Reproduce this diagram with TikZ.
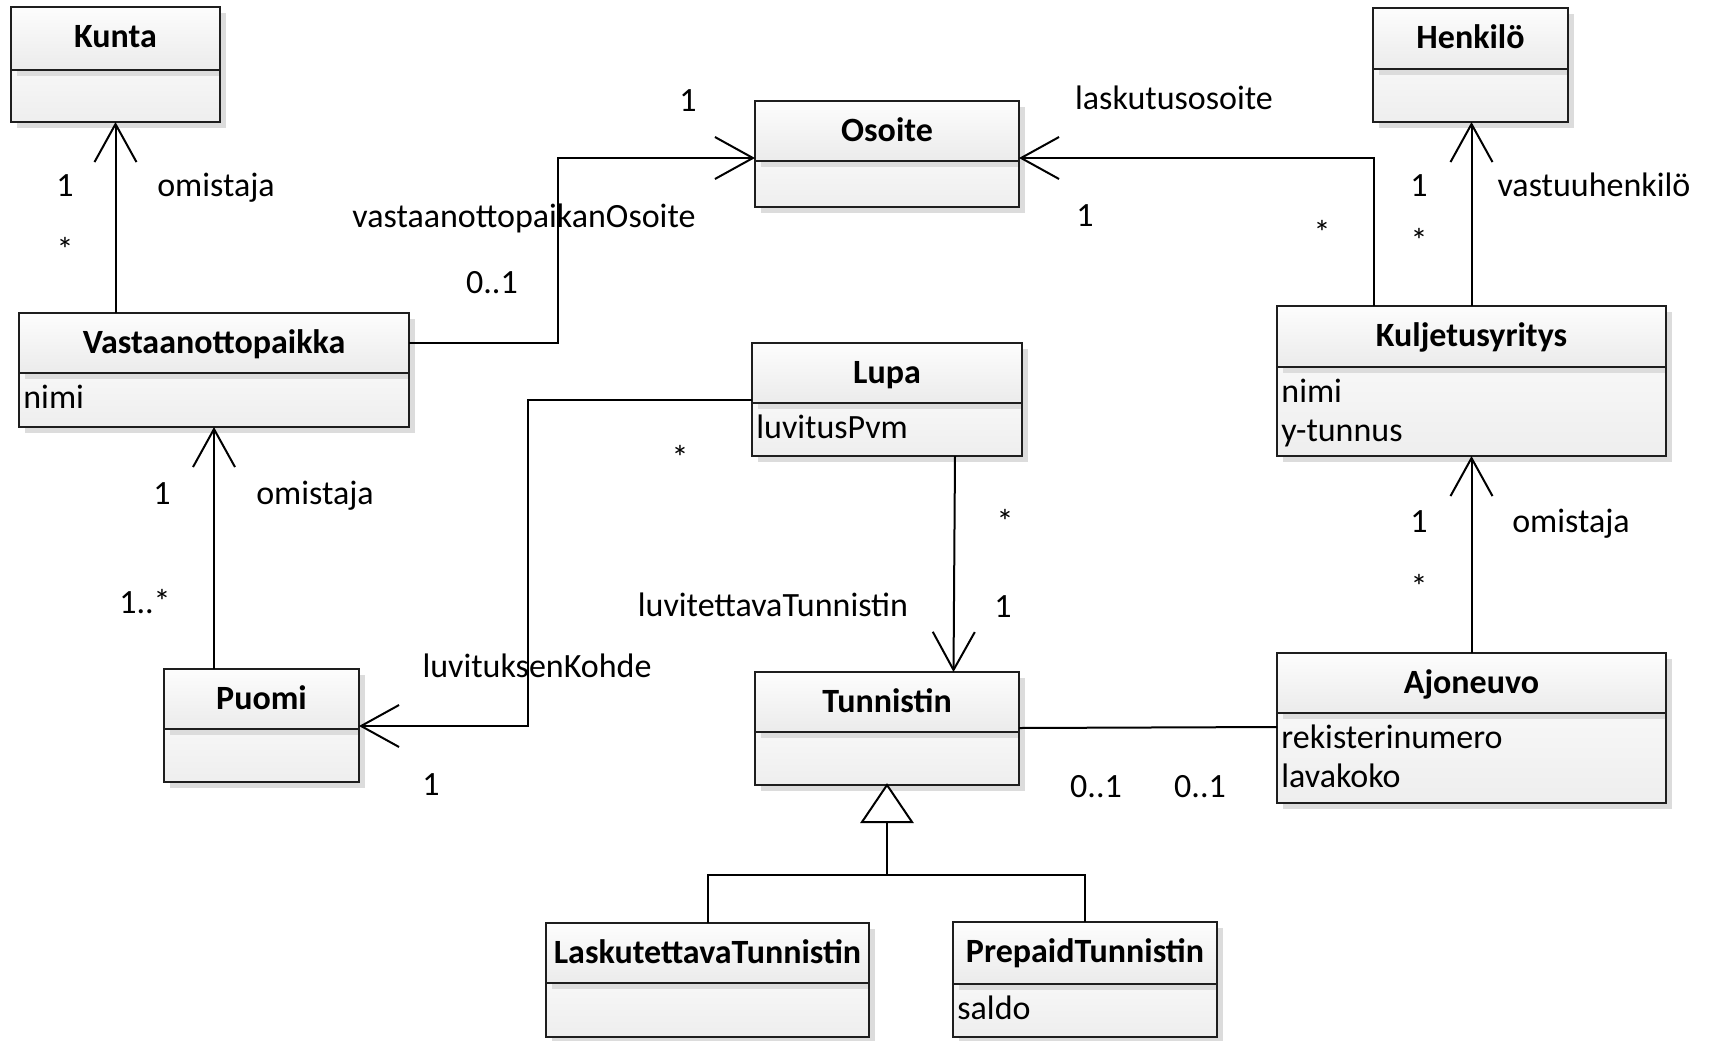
\documentclass[tikz,border=0pt]{standalone}
\usepackage{fontspec}
\setmainfont{Carlito}
\usetikzlibrary{arrows.meta,calc,fit}

\definecolor{umlshadow}{HTML}{DCDCDC}
\definecolor{headtop}{HTML}{FDFDFD}
\definecolor{headbot}{HTML}{EBEBEB}
\definecolor{bodytop}{HTML}{F7F7F7}
\definecolor{bodybot}{HTML}{EEEEEE}
\definecolor{umlline}{HTML}{1E1E1E}

\tikzset{
  boxline/.style={draw=umlline, line width=0.65pt},
  conn/.style={draw=black, line width=1pt},
  arr/.style={conn, -{Straight Barb[length=19pt,width=21pt,line width=1pt]}},
  classtitle/.style={font=\fontsize{17}{20}\selectfont\bfseries, anchor=base, inner sep=0pt},
  attr/.style={font=\fontsize{17}{20}\selectfont, anchor=base west, inner sep=0pt},
  lbl/.style={font=\fontsize{17}{20}\selectfont, anchor=base, inner sep=0pt},
}

% #1 name, #2 left, #3 top, #4 right, #5 header bottom, #6 bottom, #7 class name
\newcommand{\umlclass}[7]{%
  \fill[umlshadow] (#2+6,#3+6) rectangle (#4+6,#6+6);
  \shade[top color=bodytop, bottom color=bodybot] (#2,#5) rectangle (#4,#6);
  \fill[umlshadow] (#2+6,#5) rectangle (#4+6,#5+6);
  \shade[top color=headtop, bottom color=headbot] (#2,#3) rectangle (#4,#5);
  \draw[boxline] (#2,#3) rectangle (#4,#6);
  \draw[boxline] (#2,#5) -- (#4,#5);
  \node[fit={(#2,#3) (#4,#6)}, inner sep=0pt, outer sep=0pt] (#1) {};
  \node[fit={(#2,#3) (#4,#5)}, inner sep=0pt, outer sep=0pt] (#1-h) {};
  \node[classtitle] (#1-t) at ({(#2+#4)/2},#3+40) {#7};
}

\begin{document}
\begin{tikzpicture}[x=0.5pt,y=-0.5pt]
\useasboundingbox (0,0) rectangle (1720,1040);
\fill[white] (0,0) rectangle (1720,1040);

% classes
\umlclass{kunta}{11}{7}{220}{70}{122}{Kunta}
\umlclass{henk}{1373}{8}{1568}{69}{122}{Henkilö}
\umlclass{osoite}{755}{101}{1019}{161}{207}{Osoite}
\umlclass{vast}{19}{313}{409}{373}{427}{Vastaanottopaikka}
\node[attr] (vast-a1) at (23,408) {nimi};
\umlclass{kulj}{1277}{306}{1666}{367}{456}{Kuljetusyritys}
\node[attr] (kulj-a1) at (1281,402) {nimi};
\node[attr] (kulj-a2) at (1281,441) {y-tunnus};
\umlclass{lupa}{752}{343}{1022}{403}{456}{Lupa}
\node[attr] (lupa-a1) at (756,438) {luvitusPvm};
\umlclass{puomi}{164}{669}{359}{729}{782}{Puomi}
\umlclass{tunn}{755}{672}{1019}{732}{785}{Tunnistin}
\umlclass{ajon}{1277}{653}{1666}{713}{803}{Ajoneuvo}
\node[attr] (ajon-a1) at (1281,748) {rekisterinumero};
\node[attr] (ajon-a2) at (1281,787) {lavakoko};
\umlclass{lask}{546}{923}{869}{983}{1037}{LaskutettavaTunnistin}
\umlclass{prep}{953}{922}{1217}{984}{1037}{PrepaidTunnistin}
\node[attr] (prep-a1) at (957,1019) {saldo};

% associations
\draw[arr] (vast.north -| kunta.south) -- (kunta.south);
\draw[arr] (puomi.north -| vast.south) -- (vast.south);
\draw[arr] (kulj.north) -- (kulj.north |- henk.south);
\draw[arr] (ajon.north) -- (ajon.north |- kulj.south);
\coordinate (vbend) at (558,158);
\draw[arr] (vast-h.east) -| (vbend) -- ($(osoite.west)+(0,4)$);
\draw[arr] ($(kulj.north)+(-97.5,0)$) |- ($(osoite.east)+(0,4)$);
\coordinate (lbend) at (528,726);
\draw[arr] ($(lupa-h.south west)+(0,-3)$) -| (lbend) -- ($(puomi-h.south east)+(0,-3)$);
\draw[arr] ($(lupa.south)+(68,0)$) -- ($(tunn.north)+(66.5,0)$);
\draw[conn] ($(tunn-h.south east)+(0,-4)$) -- ($(ajon-h.south west)+(0,14)$);

% generalization
\coordinate (gtip) at (tunn.south);
\coordinate (gbase) at ($(gtip)+(0,37)$);
\coordinate (gjoin) at ($(gtip)+(0,90)$);
\draw[conn] (lask.north) |- (gjoin) -| (prep.north);
\draw[conn] (gjoin) -- (gbase);
\draw[conn, fill=white, line join=miter] (gtip) -- ++(-25,37) -- ++(50,0) -- cycle;

% association labels
\node[lbl] at (65,196) {1};
\node[lbl] at (65,261) {*};
\node[lbl] at (216,196) {omistaja};

\node[lbl] at (688,111) {1};
\node[lbl] at (524,227) {vastaanottopaikanOsoite};
\node[lbl] at (492,293) {0..1};

\node[lbl] at (1174,109) {laskutusosoite};
\node[lbl] at (1085,226) {1};
\node[lbl] at (1322,244) {*};

\node[lbl] at (1419,196) {1};
\node[lbl] at (1419,252) {*};
\node[lbl] at (1594,196) {vastuuhenkilö};

\node[lbl] at (162,504) {1};
\node[lbl] at (315,504) {omistaja};
\node[lbl] at (145,613) {1..*};

\node[lbl] at (680,469) {*};
\node[lbl] at (537,677) {luvituksenKohde};
\node[lbl] at (431,795) {1};

\node[lbl] at (1005,533) {*};
\node[lbl] at (1003,617) {1};
\node[lbl] at (773,616) {luvitettavaTunnistin};

\node[lbl] at (1096,797) {0..1};
\node[lbl] at (1200,797) {0..1};

\node[lbl] at (1419,532) {1};
\node[lbl] at (1419,598) {*};
\node[lbl] at (1571,532) {omistaja};
\end{tikzpicture}
\end{document}
